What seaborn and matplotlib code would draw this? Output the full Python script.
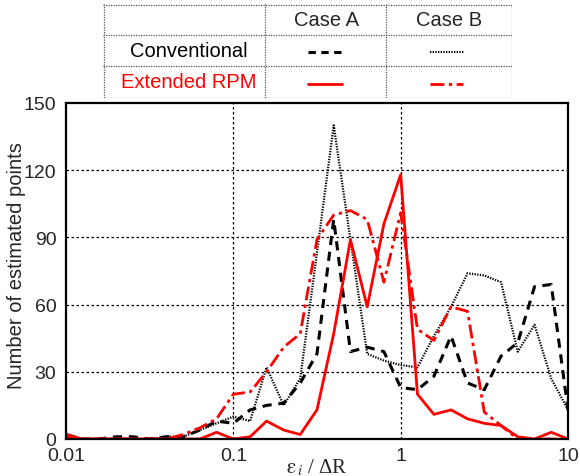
import numpy as np
import pandas as pd
import matplotlib
matplotlib.use("Agg")
import matplotlib.pyplot as plt
import seaborn as sns
from matplotlib.ticker import FixedLocator, FixedFormatter, NullLocator

# ---------------- data ----------------
x_vals = [0.01, 0.0126, 0.0158, 0.02, 0.0251, 0.0316, 0.0398, 0.0501, 0.0631, 0.0794,
          0.1, 0.126, 0.158, 0.2, 0.251, 0.316, 0.398, 0.501, 0.631, 0.794,
          1.0, 1.26, 1.58, 2.0, 2.51, 3.16, 3.98, 5.01, 6.31, 7.94, 10.0]

conv_case_a = [2, 0, 0, 1, 1, 0, 1, 1, 4, 8,
               7, 13, 15, 16, 25, 38, 98, 39, 41, 39,
               23, 22, 28, 46, 25, 22, 37, 43, 68, 69, 13]
conv_case_b = [1, 0, 0, 0, 0, 0, 1, 1, 4, 7,
               10, 8, 32, 15, 27, 83, 140, 89, 38, 35,
               33, 32, 46, 59, 74, 73, 70, 39, 51, 27, 13]
ext_case_a = [1, 0, 0, 0, 0, 0, 0, 0, 0, 3,
              0, 1, 8, 4, 2, 13, 47, 89, 59, 96,
              118, 20, 11, 13, 9, 7, 6, 1, 0, 3, 0]
ext_case_b = [2, 0, 0, 0, 0, 0, 0, 2, 5, 9,
              20, 21, 30, 41, 47, 89, 100, 102, 98, 70,
              101, 49, 44, 59, 57, 12, 6, 0, 0, 0, 0]

row_labels = ["Conventional", "Extended RPM"]
col_labels = ["Case A", "Case B"]
y_ticks = [0, 30, 60, 90, 120, 150]
x_ticks = [0.01, 0.1, 1, 10]
x_tick_labels = ["0.01", "0.1", "1", "10"]

# ---------------- style ----------------
sns.set_style("white")
plt.rcParams["font.family"] = ["Liberation Sans", "DejaVu Sans"]
plt.rcParams["mathtext.fontset"] = "stix"

RED = "#ff0000"
BLACK = "#000000"
styles = {
    "conv_a": dict(color=BLACK, lw=2.2, ls=(0, (3.0, 2.2))),
    "conv_b": dict(color=BLACK, lw=1.6, ls=(0, (0.6, 0.6))),
    "ext_a": dict(color=RED, lw=2.0, ls="-"),
    "ext_b": dict(color=RED, lw=2.0, ls=(0, (5, 1.6, 1.2, 1.6))),
}

fig = plt.figure(figsize=(5.8, 4.77), dpi=100)
ax = fig.add_axes([66 / 580, 1 - 440 / 477, (568 - 66) / 580, (440 - 104) / 477])

series = [("conv_b", conv_case_b), ("conv_a", conv_case_a),
          ("ext_b", ext_case_b), ("ext_a", ext_case_a)]
for key, vals in series:
    df = pd.DataFrame({"x": x_vals, "y": vals})
    st = styles[key]
    sns.lineplot(data=df, x="x", y="y", ax=ax, color=st["color"],
                 linewidth=st["lw"], linestyle=st["ls"], legend=False)

ax.set_xscale("log")
ax.set_xlim(0.01, 10)
ax.set_ylim(0, 150)
ax.xaxis.set_major_locator(FixedLocator(x_ticks))
ax.xaxis.set_major_formatter(FixedFormatter(x_tick_labels))
ax.xaxis.set_minor_locator(NullLocator())
ax.yaxis.set_major_locator(FixedLocator(y_ticks))
ax.tick_params(axis="both", labelsize=14, length=0)
ax.tick_params(axis="y", pad=7)
ax.tick_params(axis="x", pad=6)

for xv in [0.1, 1]:
    ax.axvline(xv, color=BLACK, lw=0.9, ls=(0, (2, 2)), zorder=0)
for yv in [30, 60, 90, 120]:
    ax.axhline(yv, color=BLACK, lw=0.9, ls=(0, (2, 2)), zorder=0)

for sp in ax.spines.values():
    sp.set_color(BLACK)
    sp.set_linewidth(1.6)

ax.set_ylabel("Number of estimated points", fontsize=14.5)
ax.yaxis.set_label_coords(-0.08, 0.52)
ax.set_xlabel("")
fig.text(317 / 580, 4 / 477, r"$\mathrm{\varepsilon}_{\,i}$ / ΔR",
         ha="center", va="baseline", fontsize=15, family="Liberation Serif")

# ---------------- legend table ----------------
tab = fig.add_axes([103 / 580, 1 - 99 / 477, (512 - 103) / 580, (99 - 5) / 477])
tab.set_xlim(0, 409)
tab.set_ylim(94, 0)
tab.axis("off")
grid_kw = dict(color="#555555", lw=0.9, ls=(0, (1, 1)))
for yy in [0.5, 31, 62, 93.5]:
    tab.plot([0, 409], [yy, yy], **grid_kw)
for xx in [0.5, 162, 283, 408.5]:
    tab.plot([xx, xx], [0, 94], **grid_kw)

tab.text(223, 16, col_labels[0], ha="center", va="center", fontsize=14.5)
tab.text(346, 16, col_labels[1], ha="center", va="center", fontsize=14.5)
tab.text(86, 47, row_labels[0], ha="center", va="center", fontsize=14.5, color=BLACK)
tab.text(86, 78, row_labels[1], ha="center", va="center", fontsize=14.5, color=RED)

tab.plot([205, 240], [48, 48], color=BLACK, lw=2.2, ls=(0, (2.4, 1.8)))
tab.plot([327, 361], [48, 48], color=BLACK, lw=1.6, ls=(0, (0.6, 0.6)))
tab.plot([205, 239], [80, 80], color=RED, lw=2.0, ls="-")
tab.plot([327, 360], [80, 80], color=RED, lw=2.0, ls=(0, (5, 1.6, 1.2, 1.6)))

fig.savefig("out.png", dpi=100)
